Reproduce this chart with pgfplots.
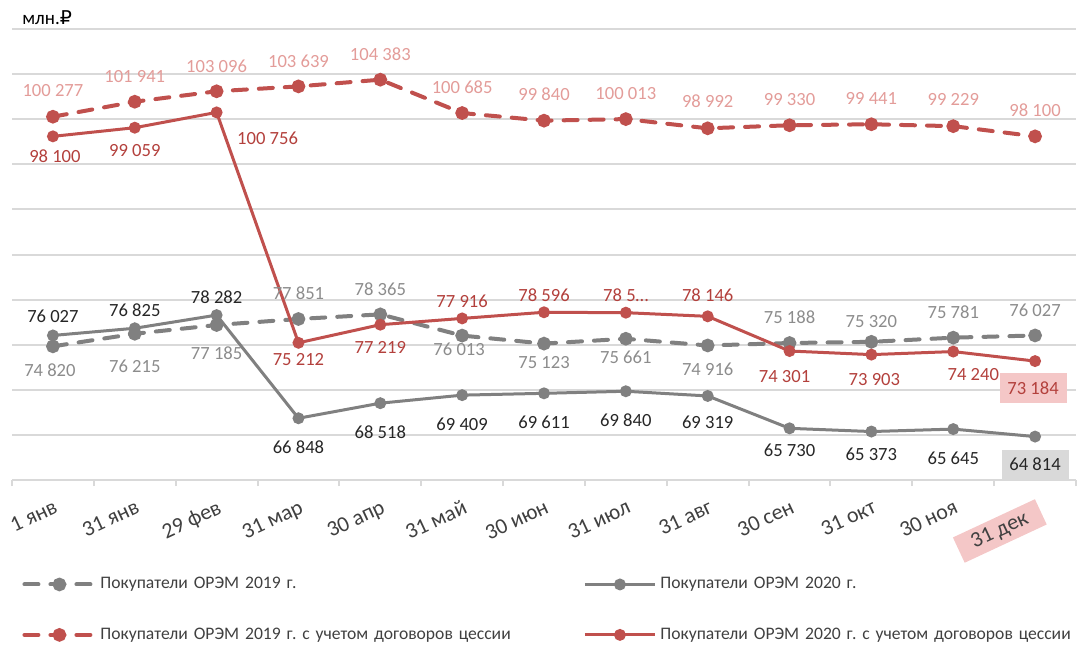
\documentclass[border=0pt]{standalone}
\usepackage{pgfplots}
\pgfplotsset{compat=1.18}
\usepackage{pgfplotstable}
\usepackage{fontspec}
\setmainfont{Carlito}
\newfontfamily\djv{DejaVu Sans}
\frenchspacing
\definecolor{redl}{HTML}{C0504D}
\definecolor{redlabA}{HTML}{E39C99}
\definecolor{redlabB}{HTML}{B3403C}
\definecolor{grayl}{HTML}{808080}
\definecolor{graylabA}{HTML}{8C8C8C}
\definecolor{graylabB}{HTML}{262626}
\definecolor{gridc}{HTML}{D9D9D9}
\definecolor{boxpink}{HTML}{F4C7C7}
\definecolor{boxgray}{HTML}{D9D9D9}
\definecolor{txt}{HTML}{404040}

\pgfplotstableread[col sep=comma]{
x,y,lab,lx,ly
0,74820,{74 820},-3,-24
1,76215,{76 215},0,-33
2,77185,{77 185},0,-28
3,77851,{77 851},0,26
4,78365,{78 365},0,25
5,76013,{76 013},-3,-14
6,75123,{75 123},0,-19
7,75661,{75 661},0,-19
8,74916,{74 916},0,-24
9,75188,{75 188},0,26
10,75320,{75 320},0,20
11,75781,{75 781},0,25
12,76027,{76 027},0,25
}\gA

\pgfplotstableread[col sep=comma]{
x,y,lab,lx,ly
0,76027,{76 027},0,19
1,76825,{76 825},0,18
2,78282,{78 282},0,18
3,66848,{66 848},0,-29
4,68518,{68 518},0,-29
5,69409,{69 409},0,-29
6,69611,{69 611},0,-29
7,69840,{69 840},0,-29
8,69319,{69 319},0,-26
9,65730,{65 730},0,-22
10,65373,{65 373},0,-23
11,65645,{65 645},0,-29
12,64814,{},0,0
}\gB

\pgfplotstableread[col sep=comma]{
x,y,lab,lx,ly
0,100277,{100 277},0,26
1,101941,{101 941},0,25
2,103096,{103 096},0,25
3,103639,{103 639},0,25
4,104383,{104 383},0,25
5,100685,{100 685},0,26
6,99840,{99 840},0,26
7,100013,{100 013},0,26
8,98992,{98 992},0,27
9,99330,{99 330},0,26
10,99441,{99 441},0,26
11,99229,{99 229},0,27
12,98100,{98 100},0,26
}\rA

\pgfplotstableread[col sep=comma]{
x,y,lab,lx,ly
0,98100,{98 100},2,-20
1,99059,{99 059},0,-23
2,100756,{100 756},51,-26
3,75212,{75 212},0,-17
4,77219,{77 219},0,-23
5,77916,{77 916},0,17
6,78596,{78 596},0,17
7,78550,{78 5…},0,17
8,78146,{78 146},0,21
9,74301,{74 301},-5,-26
10,73903,{73 903},3,-25
11,74240,{74 240},20,-23
12,73184,{},0,0
}\rB

\pgfplotstableread[col sep=comma]{
x,y,lab,lx,ly
12,73184,{73 184},-2,-27
}\rBox

\pgfplotstableread[col sep=comma]{
x,y,lab,lx,ly
12,64814,{64 814},0,-28
}\gBox

\begin{document}
\begin{tikzpicture}
\useasboundingbox (-6pt,-82.5pt) rectangle (534pt,240pt);
\begin{axis}[
  at={(0pt,0pt)}, anchor=south west,
  scale only axis, width=532pt, height=225.5pt,
  xmin=-0.5, xmax=12.5, ymin=60000, ymax=110000,
  clip=false,
  scaled y ticks=false,
  axis line style={draw=none},
  ytick={60000,65000,...,110000}, yticklabels={},
  ymajorgrids, grid style={gridc, line width=1pt},
  y tick style={draw=none},
  xtick={0,...,12},
  minor xtick={-0.5,0.5,...,12.5},
  xtick pos=left, tick align=outside,
  major tick length=0pt, minor tick length=3pt,
  major x tick style={draw=none},
  minor x tick style={draw=gridc, line width=1pt},
  xticklabels={1 янв,31 янв,29 фев,31 мар,30 апр,31 май,30 июн,31 июл,31 авг,30 сен,31 окт,30 ноя,{\setlength{\fboxsep}{2.5pt}\colorbox{boxpink}{\hspace{5pt}31 дек\hspace{5pt}}}},
  xticklabel style={xshift=0.5pt, yshift=-8pt, rotate=25, anchor=north east, font=\fontsize{11}{13}\selectfont, text=txt, inner sep=1pt},
  legend columns=2,
  legend cell align=left,
  legend image code/.code={\draw[mark repeat=2,mark phase=2,#1] plot coordinates {(0pt,0pt) (17.5pt,0pt) (35pt,0pt)};},
  legend style={at={(0.0038,-0.197)}, anchor=north west, draw=none, fill=none,
    font=\fontsize{8.8}{11}\selectfont, text=txt, row sep=14pt,
    /tikz/every even column/.append style={column sep=19.5pt},
    nodes={text width=220pt, align=left, inner sep=2pt}},
  nodes near coords, point meta=explicit symbolic,
]
% gray dashed 2019
\addplot[grayl, line width=2pt, dash pattern=on 7pt off 6pt, line cap=round, mark=*, mark size=2.4pt, mark options={solid},
  visualization depends on={\thisrow{lx} \as \lx},
  visualization depends on={\thisrow{ly} \as \ly},
  every node near coord/.append style={anchor=center, inner sep=0pt, text=graylabA, font=\fontsize{9.3}{11}\selectfont, xshift=\lx*0.5pt, yshift=\ly*0.5pt}]
  table[x=x, y=y, meta=lab] {\gA};
\addlegendentry{Покупатели ОРЭМ 2019 г.}
% gray solid 2020
\addplot[grayl, line width=1.5pt, mark=*, mark size=2.2pt,
  visualization depends on={\thisrow{lx} \as \lx},
  visualization depends on={\thisrow{ly} \as \ly},
  every node near coord/.append style={anchor=center, inner sep=0pt, text=graylabB, font=\fontsize{9.3}{11}\selectfont, xshift=\lx*0.5pt, yshift=\ly*0.5pt}]
  table[x=x, y=y, meta=lab] {\gB};
\addlegendentry{Покупатели ОРЭМ 2020 г.}
% red dashed 2019
\addplot[redl, line width=2pt, dash pattern=on 7pt off 6pt, line cap=round, mark=*, mark size=2.4pt, mark options={solid},
  visualization depends on={\thisrow{lx} \as \lx},
  visualization depends on={\thisrow{ly} \as \ly},
  every node near coord/.append style={anchor=center, inner sep=0pt, text=redlabA, font=\fontsize{9.3}{11}\selectfont, xshift=\lx*0.5pt, yshift=\ly*0.5pt}]
  table[x=x, y=y, meta=lab] {\rA};
\addlegendentry{Покупатели ОРЭМ 2019 г. с учетом договоров цессии}
% red solid 2020
\addplot[redl, line width=1.5pt, mark=*, mark size=2.2pt,
  visualization depends on={\thisrow{lx} \as \lx},
  visualization depends on={\thisrow{ly} \as \ly},
  every node near coord/.append style={anchor=center, inner sep=0pt, text=redlabB, font=\fontsize{9.3}{11}\selectfont, xshift=\lx*0.5pt, yshift=\ly*0.5pt}]
  table[x=x, y=y, meta=lab] {\rB};
\addlegendentry{Покупатели ОРЭМ 2020 г. с учетом договоров цессии}
% boxed labels
\addplot[draw=none, mark=none, forget plot,
  visualization depends on={\thisrow{lx} \as \lx},
  visualization depends on={\thisrow{ly} \as \ly},
  every node near coord/.append style={anchor=center, inner sep=0pt, fill=boxpink, minimum width=33.5pt, minimum height=15pt, text=redlabB, font=\fontsize{9.3}{11}\selectfont, xshift=\lx*0.5pt, yshift=\ly*0.5pt}]
  table[x=x, y=y, meta=lab] {\rBox};
\addplot[draw=none, mark=none, forget plot,
  visualization depends on={\thisrow{lx} \as \lx},
  visualization depends on={\thisrow{ly} \as \ly},
  every node near coord/.append style={anchor=center, inner sep=0pt, fill=boxgray, minimum width=33.5pt, minimum height=15pt, text=graylabB, font=\fontsize{9.3}{11}\selectfont, xshift=\lx*0.5pt, yshift=\ly*0.5pt}]
  table[x=x, y=y, meta=lab] {\gBox};
\end{axis}
\node[anchor=west, inner sep=0pt, font=\fontsize{9.5}{11}\selectfont, text=black] at (5pt,231pt) {млн.{\djv ₽}};
\end{tikzpicture}
\end{document}
